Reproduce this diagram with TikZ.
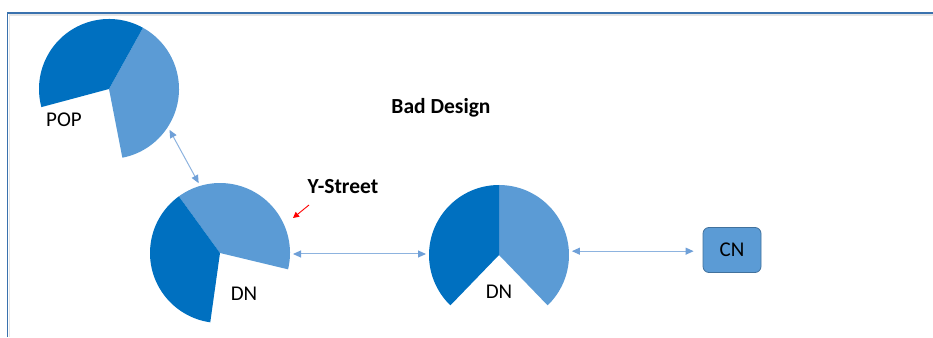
\documentclass[tikz,border=0pt]{standalone}
\usepackage{fontspec}
\setmainfont{Carlito}
\usetikzlibrary{arrows.meta}

\definecolor{darkpie}{HTML}{0070C0}
\definecolor{lightpie}{HTML}{5B9BD5}
\definecolor{linkblue}{HTML}{8DB3DF}
\definecolor{linkhead}{HTML}{6FA0D8}
\definecolor{framecol}{HTML}{3A72AE}
\definecolor{cnborder}{HTML}{41719C}

\tikzset{
  hub/.style={circle, minimum size=146pt, inner sep=0pt, outer sep=0pt},
  label/.style={font=\fontsize{21}{25}\selectfont, text=black, inner sep=0pt},
  title/.style={font=\fontsize{21.5}{25}\selectfont\bfseries, text=black, inner sep=0pt},
  link/.style={draw=linkblue, line width=1pt,
    {Triangle[length=8pt,width=7pt,color=linkhead]}-{Triangle[length=8pt,width=7pt,color=linkhead]}},
  pointer/.style={draw=red, line width=0.9pt, -{Triangle[length=6pt,width=6pt]}},
  cnbox/.style={rectangle, rounded corners=6pt, fill=lightpie, draw=cnborder,
    line width=0.8pt, minimum width=58pt, minimum height=45pt,
    font=\fontsize{21}{25}\selectfont, text=black}
}

% pie with a missing wedge: light part from a1 to a2, dark part from a2 to a3
\newcommand{\pacpie}[4]{%
  \fill[lightpie] (#1.center) -- ++(#2:70pt) arc[start angle=#2, end angle=#3, radius=70pt] -- cycle;
  \fill[darkpie] (#1.center) -- ++(#3:70pt) arc[start angle=#3, end angle=#4, radius=70pt] -- cycle;
}

\begin{document}
\begin{tikzpicture}[x=1pt,y=1pt]
  \useasboundingbox (0,0) rectangle (933,337);

  % page frame
  \draw[gray!20, line width=1.2pt] (9.5,0) -- (9.5,322) -- (933,322);
  \draw[framecol, line width=1.8pt] (7.5,0) -- (7.5,324) -- (933,324);

  % pie hubs
  \node[hub] (pop) at (109,248) {};
  \node[hub] (dn1) at (220,84) {};
  \node[hub] (dn2) at (499,82) {};

  \pacpie{pop}{-79}{61}{195}
  \pacpie{dn1}{-13.5}{126}{262}
  \pacpie{dn2}{-46}{90}{226}

  % labels
  \node[label] (poplbl) at (64,217) {POP};
  \node[label] (dn1lbl) at (244,43) {DN};
  \node[label] (dn2lbl) at (499,45) {DN};
  \node[title] (bad) at (441,229) {Bad Design};
  \node[title] (ystreet) at (343,150) {Y-Street};

  % core node
  \node[cnbox] (cn) at (732,87) {CN};

  % links
  \draw[link] (pop.-34) -- (dn1.107);
  \draw[link] ([yshift=-1pt]dn1.east) -- ([yshift=1pt]dn2.west);
  \draw[link] (dn2.3) -- ([xshift=-9pt]dn2.3 -| cn.west);

  % pointer to the Y-street cut
  \coordinate (redtail) at (309,132);
  \coordinate (redtip) at (293,119);
  \draw[pointer] (redtail) -- (redtip);
\end{tikzpicture}
\end{document}
